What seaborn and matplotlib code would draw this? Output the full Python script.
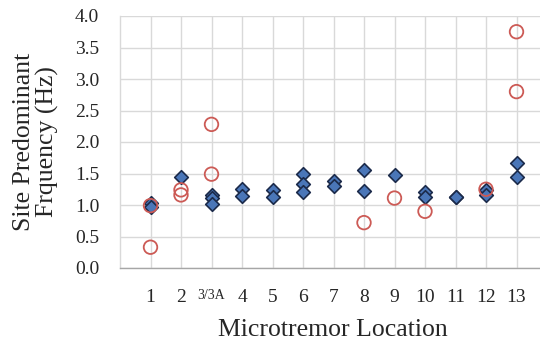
import matplotlib
matplotlib.use("Agg")
import matplotlib.pyplot as plt
import seaborn as sns
import pandas as pd

# Microtremor locations and their tick labels
locations = list(range(1, 14))
tick_labels = ["1", "2", "3/3A", "4", "5", "6", "7", "8", "9", "10", "11", "12", "13"]

# Predominant frequencies (Hz), diamond series, per location
diamond_loc = [1, 1, 2, 3, 3, 3, 4, 4, 5, 5, 6, 6, 6, 7, 7, 8, 8, 9, 10, 10, 11, 11, 12, 12, 13, 13]
diamond_hz = [1.03, 0.97, 1.45, 1.16, 1.11, 1.02, 1.25, 1.15, 1.24, 1.13, 1.50, 1.33, 1.21,
              1.38, 1.30, 1.56, 1.22, 1.48, 1.20, 1.13, 1.13, 1.12, 1.24, 1.16, 1.67, 1.45]

# Predominant frequencies (Hz), circle series, per location
circle_loc = [1, 1, 2, 2, 3, 3, 8, 9, 10, 12, 13, 13]
circle_hz = [0.99, 0.33, 1.24, 1.16, 2.28, 1.49, 0.72, 1.11, 0.90, 1.25, 3.75, 2.80]

diamonds = pd.DataFrame({"location": diamond_loc, "frequency": diamond_hz})
circles = pd.DataFrame({"location": circle_loc, "frequency": circle_hz})

sns.set_theme(style="white")
plt.rcParams["font.family"] = ["Liberation Serif", "DejaVu Serif"]

fig = plt.figure(figsize=(5.4, 3.4), dpi=100)
ax = fig.add_axes([120 / 540, 72 / 340, 427 / 540, 252 / 340])

sns.scatterplot(data=diamonds, x="location", y="frequency", ax=ax, marker="D", s=48,
                color="#4A76B8", edgecolor="#1B2A4A", linewidth=1.2, zorder=3)
sns.scatterplot(data=circles, x="location", y="frequency", ax=ax, marker="o", s=95,
                facecolor="none", edgecolor="#CC5A55", linewidth=1.3, zorder=4)

ax.set_xlim(0, 14)
ax.set_ylim(0, 4.0)
ax.set_yticks([i * 0.5 for i in range(9)])
ax.set_yticklabels([f"{i * 0.5:.1f}" for i in range(9)], fontsize=14)
ax.set_xticks(locations)
ax.set_xticklabels(tick_labels, fontsize=14)
for lbl in ax.get_xticklabels():
    if lbl.get_text() == "3/3A":
        lbl.set_fontsize(10)
ax.tick_params(axis="x", length=0, pad=15)
ax.tick_params(axis="y", length=0, pad=15)

ax.grid(True, color="#D9D9D9", linewidth=1.0)
ax.set_axisbelow(True)
for side in ["top", "right"]:
    ax.spines[side].set_visible(False)
ax.spines["left"].set_color("#D9D9D9")
ax.spines["bottom"].set_color("#A6A6A6")
ax.spines["left"].set_linewidth(1.0)
ax.spines["bottom"].set_linewidth(1.0)

ax.set_xlabel("Microtremor Location", fontsize=18.5, va="center")
ax.set_ylabel("Site Predominant\nFrquency (Hz)", fontsize=18.5, linespacing=1.0, va="center")
ax.xaxis.set_label_coords((333 - 120) / 427, -(330 - 268) / 252)
ax.yaxis.set_label_coords(-(120 - 36) / 427, 0.5)

fig.savefig("out.png", dpi=100)
